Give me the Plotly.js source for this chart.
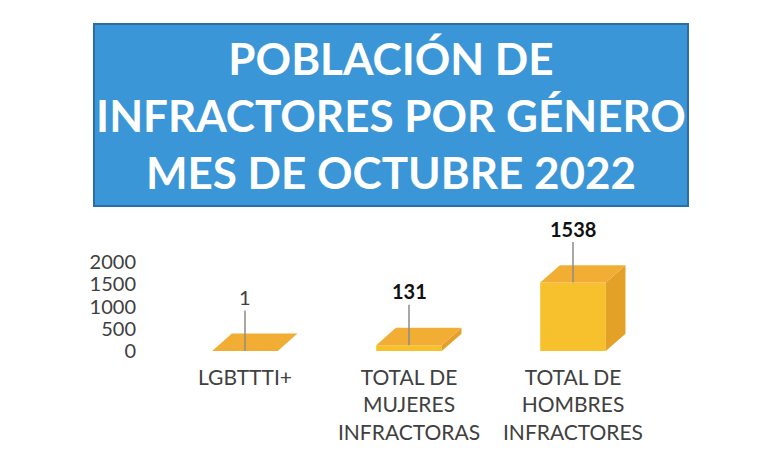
<!DOCTYPE html>
<html>
<head>
<meta charset="utf-8">
<script src="https://cdn.plot.ly/plotly-3.0.1.min.js"></script>
<style>
  html, body { margin: 0; padding: 0; background: #ffffff; }
  #chart { width: 768px; height: 470px; }
</style>
</head>
<body>
<div id="chart"></div>
<script>
// values
var categories = ['LGBTTTI+', 'TOTAL DE<br>MUJERES<br>INFRACTORAS', 'TOTAL DE<br>HOMBRES<br>INFRACTORES'];
var values = [1, 131, 1538];
var valueLabels = ['1', '131', '1538'];
var yTicks = [0, 500, 1000, 1500, 2000];
var titleText = 'POBLACIÓN DE<br>INFRACTORES POR GÉNERO<br>MES DE OCTUBRE 2022';

// look of the fake 3d boxes
var barWidth = 0.40, depthX = 0.12, depthY = 390;
var frontColor = '#F6C12C', topColor = '#F2AE34', sideColor = '#E3A127';
var labelWeights = [400, 700, 700];
var labelColors = ['#404040', '#111111', '#111111'];

function buildChart() {
  var xs = values.map(function (v, i) { return i; });
  var traces = [];
  traces.push({
    type: 'bar', x: xs, y: values, width: barWidth,
    marker: { color: frontColor, line: { width: 0 } },
    hoverinfo: 'skip'
  });
  for (var i = 0; i < values.length; i++) {
    var v = values[i], l = i - barWidth / 2, r = i + barWidth / 2;
    // side face
    traces.push({
      type: 'scatter', mode: 'lines', fill: 'toself', fillcolor: sideColor,
      line: { width: 0, color: sideColor }, hoverinfo: 'skip',
      x: [r, r + depthX, r + depthX, r, r],
      y: [0, depthY, v + depthY, v, 0]
    });
    // top face
    traces.push({
      type: 'scatter', mode: 'lines', fill: 'toself', fillcolor: topColor,
      line: { width: 0, color: topColor }, hoverinfo: 'skip',
      x: [l, r, r + depthX, l + depthX, l],
      y: [v, v, v + depthY, v + depthY, v]
    });
  }

  var annotations = [{
    xref: 'paper', yref: 'paper', x: 0.4634, y: 2.652,
    xanchor: 'center', yanchor: 'middle',
    width: 592, height: 180, borderpad: 0,
    bgcolor: '#3A96D6', bordercolor: '#2B6EA6', borderwidth: 2,
    showarrow: false, text: titleText,
    font: { family: 'Lato', size: 44, color: '#ffffff', weight: 700 }
  }];
  for (var k = 0; k < values.length; k++) {
    annotations.push({
      x: k, y: values[k], xref: 'x', yref: 'y',
      text: valueLabels[k], showarrow: true, arrowhead: 0,
      arrowwidth: 1.5, arrowcolor: '#8C8C8C', standoff: 0,
      ax: 0, ay: -54,
      font: { family: 'Lato', size: 20, color: labelColors[k], weight: labelWeights[k] }
    });
  }

  var layout = {
    width: 768, height: 470,
    paper_bgcolor: '#ffffff', plot_bgcolor: 'rgba(0,0,0,0)',
    showlegend: false,
    margin: { l: 163, r: 113, t: 262, b: 119, pad: 0 },
    xaxis: {
      range: [-0.5, 2.5], tickvals: xs, ticktext: categories,
      showgrid: false, zeroline: false, showline: false, ticks: '',
      ticklabelstandoff: 12,
      tickfont: { family: 'Lato', size: 21, color: '#404040' }
    },
    yaxis: {
      range: [0, 2000], tickvals: yTicks,
      showgrid: false, zeroline: false, showline: false, ticks: '',
      ticklabelstandoff: 26,
      tickfont: { family: 'Lato', size: 20, color: '#404040' }
    },
    annotations: annotations
  };
  Plotly.newPlot('chart', traces, layout, { displayModeBar: false, staticPlot: true });
}
buildChart();
</script>
</body>
</html>
